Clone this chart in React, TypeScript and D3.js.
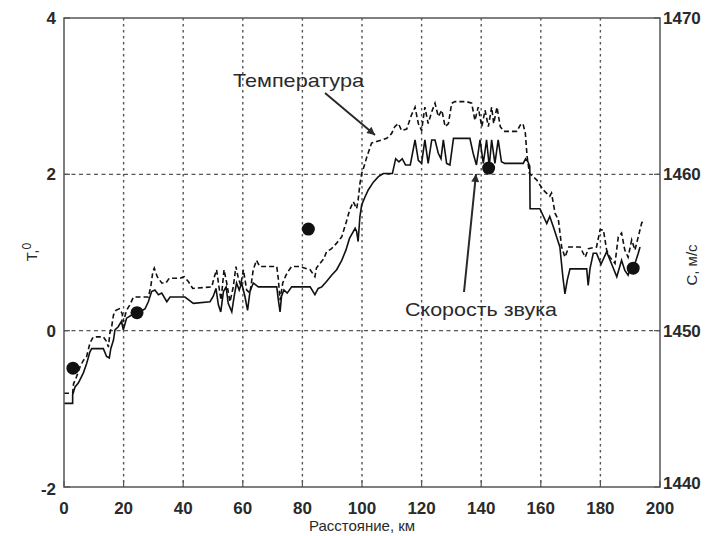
import React from 'react';
import * as d3 from 'd3';

// температура (пунктир), км / °C
const tempKm = [0, 2.9, 3.2, 4.2, 5.4, 6.5, 7.6, 8.7, 9.8, 13.2, 14.3, 14.9, 15.4, 16.0, 16.6, 17.4, 18.6, 19.5, 19.9, 21.0,
  22.1, 23.3, 28.3, 29.1, 29.8, 30.3, 31.3, 32.8, 34.2, 35.3, 38.9, 40.3, 41.7, 43.2, 49.6, 50.3, 51.2, 52.0, 52.7, 53.7,
  54.6, 55.7, 56.8, 57.7, 58.5, 59.3, 60.2, 61.3, 62.4, 63.5, 64.6, 65.7, 71.4, 71.9, 72.5, 73.4, 74.5, 75.6, 76.4, 79.1,
  82.6, 84.2, 84.7, 85.9, 87.2, 88.1, 89.8, 91.5, 93.2, 94.8, 95.9, 97.1, 98.2, 98.7, 99.3, 99.9, 101.0, 101.6, 103.2, 104.9,
  106.6, 108.3, 109.9, 111.0, 112.2, 113.3, 115.0, 116.5, 117.8, 118.9, 120.0, 121.1, 122.2, 123.4, 124.5, 125.6, 126.8, 127.9, 129.0, 130.1,
  131.2, 135.1, 136.8, 137.9, 139.0, 140.2, 141.3, 142.4, 143.5, 144.2, 145.3, 146.4, 147.6, 152.0, 153.1, 154.0, 154.8, 155.4, 156.2, 158.6,
  160.8, 161.9, 163.0, 163.6, 164.8, 165.9, 166.6, 167.0, 168.1, 169.4, 173.2, 174.9, 176.0, 178.7, 179.9, 181.0, 182.1, 183.2, 184.9, 186.0,
  187.1, 188.2, 189.3, 190.5, 191.6, 192.7, 193.8, 194.4];
const tempVal = [-0.80, -0.80, -0.68, -0.59, -0.46, -0.38, -0.33, -0.16, -0.08, -0.08, -0.14, -0.21, -0.03, 0.05, 0.20, 0.26, 0.28, 0.22, 0.11, 0.26,
  0.33, 0.43, 0.43, 0.56, 0.75, 0.80, 0.69, 0.61, 0.61, 0.67, 0.67, 0.69, 0.63, 0.54, 0.56, 0.67, 0.78, 0.56, 0.39, 0.78,
  0.61, 0.37, 0.56, 0.82, 0.67, 0.58, 0.78, 0.52, 0.48, 0.78, 0.90, 0.82, 0.82, 0.67, 0.39, 0.61, 0.71, 0.78, 0.82, 0.82,
  0.78, 0.69, 0.80, 0.86, 0.92, 1.01, 1.05, 1.12, 1.20, 1.40, 1.55, 1.65, 1.56, 1.67, 1.88, 2.01, 2.14, 2.22, 2.40, 2.42,
  2.44, 2.46, 2.52, 2.61, 2.65, 2.56, 2.58, 2.75, 2.86, 2.65, 2.56, 2.86, 2.65, 2.80, 2.91, 2.74, 2.82, 2.61, 2.65, 2.91,
  2.93, 2.93, 2.91, 2.69, 2.86, 2.61, 2.82, 2.61, 2.86, 2.65, 2.86, 2.61, 2.55, 2.55, 2.63, 2.65, 2.53, 2.23, 2.01, 1.93,
  1.80, 1.76, 1.72, 1.76, 1.50, 1.42, 1.20, 1.07, 0.94, 1.07, 1.07, 0.94, 1.05, 1.07, 1.29, 1.29, 1.03, 0.94, 0.86, 1.20,
  1.25, 1.03, 0.94, 1.16, 1.03, 1.20, 1.37, 1.42];

// скорость звука (сплошная), км / м/с
const speedKm = [0, 2.9, 2.9, 3.7, 4.8, 5.6, 6.5, 7.6, 8.7, 9.3, 13.2, 14.3, 15.2, 15.7, 16.6, 17.1, 18.2, 19.3, 19.9, 21.0,
  22.7, 25.5, 27.2, 28.3, 29.4, 30.5, 31.7, 32.8, 34.5, 35.6, 40.6, 43.4, 49.0, 50.1, 51.0, 51.8, 52.6, 53.5, 54.4, 55.1,
  56.3, 57.1, 57.9, 58.8, 59.6, 60.7, 61.6, 62.4, 63.5, 65.2, 71.4, 71.9, 72.5, 73.0, 73.8, 74.9, 76.4, 82.6, 84.2, 85.3,
  86.5, 88.1, 89.8, 91.5, 93.2, 94.6, 95.8, 97.7, 98.2, 98.7, 99.3, 99.9, 101.0, 102.1, 103.8, 105.5, 107.2, 110.2, 111.3, 112.4,
  113.5, 114.6, 116.2, 117.8, 118.9, 120.0, 121.1, 122.2, 123.4, 124.5, 125.6, 126.5, 127.3, 128.4, 129.5, 130.7, 136.2, 137.3, 138.4, 139.6,
  140.7, 141.8, 142.7, 143.5, 144.6, 145.7, 146.8, 147.9, 154.1, 154.9, 155.7, 156.3, 156.4, 159.7, 162.0, 163.0, 164.2, 166.4, 167.4, 168.1,
  168.9, 169.8, 175.4, 175.9, 176.5, 177.6, 178.7, 180.2, 182.1, 183.8, 185.5, 187.1, 188.2, 189.3, 190.5, 191.6, 192.7, 193.3];
const speedVal = [1445.35, 1445.35, 1445.9, 1446.4, 1446.65, 1446.95, 1447.3, 1447.9, 1448.65, 1448.85, 1448.85, 1448.35, 1448.25, 1448.85, 1449.4, 1450.05, 1450.25, 1450.6, 1450.05, 1450.8,
  1451.0, 1451.2, 1451.4, 1451.85, 1452.5, 1452.6, 1452.3, 1452.4, 1451.85, 1452.15, 1452.15, 1451.75, 1451.85, 1452.2, 1452.7, 1451.65, 1451.2, 1452.5, 1452.8, 1451.75,
  1451.2, 1452.2, 1453.05, 1452.6, 1453.05, 1452.2, 1451.3, 1452.5, 1453.05, 1452.8, 1452.8, 1452.0, 1451.2, 1452.2, 1452.6, 1452.4, 1452.8, 1452.8, 1452.3, 1452.7,
  1452.8, 1453.15, 1453.55, 1453.9, 1454.5, 1455.15, 1455.9, 1456.55, 1456.35, 1455.7, 1457.3, 1458.05, 1458.55, 1459.0, 1459.5, 1459.85, 1460.05, 1460.05, 1461.0, 1460.8,
  1461.0, 1460.6, 1460.6, 1462.2, 1460.9, 1460.7, 1462.2, 1460.7, 1462.2, 1462.2, 1461.35, 1461.0, 1462.2, 1460.7, 1460.6, 1462.3, 1462.3, 1461.35, 1460.6, 1462.2,
  1460.7, 1462.2, 1460.5, 1462.2, 1460.7, 1462.2, 1460.8, 1460.7, 1460.7, 1461.0, 1460.8, 1460.5, 1457.8, 1457.8, 1456.85, 1457.3, 1456.65, 1455.35, 1453.45, 1452.35,
  1453.25, 1453.95, 1453.95, 1452.9, 1453.95, 1454.95, 1454.95, 1454.25, 1455.05, 1454.25, 1453.45, 1454.5, 1453.85, 1453.55, 1454.3, 1454.3, 1454.95, 1455.35];

// точечные измерения температуры
const measKm = [3, 24.5, 82, 142.5, 191];
const measT = [-0.48, 0.23, 1.30, 2.08, 0.80];

const xTicks = [0, 20, 40, 60, 80, 100, 120, 140, 160, 180, 200];
const tTicks = [-2, 0, 2, 4];
const cTicks = [1440, 1450, 1460, 1470];

const W = 724, H = 536;
const L = 64, R = 660, T = 18, B = 487;
const tickFont = '"Liberation Sans Narrow", "Arial Narrow", "Liberation Sans", sans-serif';
const labelFont = '"Liberation Sans", Arial, sans-serif';
const ink = '#2a2a2a';
const gridCol = '#555';

export default function App() {
  const x = d3.scaleLinear().domain([0, 200]).range([L, R]);
  const yT = d3.scaleLinear().domain([-2, 4]).range([B, T]);
  const yC = d3.scaleLinear().domain([1440, 1470]).range([B, T]);

  const tempLine = d3.line<number>().x((d, i) => x(tempKm[i])).y(d => yT(d));
  const speedLine = d3.line<number>().x((d, i) => x(speedKm[i])).y(d => yC(d));

  return (
    <svg width={W} height={H} style={{ position: 'absolute', left: 0, top: 0, background: '#fff' }}>
      <defs>
        <marker id="ah" viewBox="0 0 10 10" refX="10" refY="5" markerWidth="12" markerHeight="8"
          markerUnits="userSpaceOnUse" orient="auto">
          <path d="M0,0 L10,5 L0,10 z" fill={ink} />
        </marker>
      </defs>

      {/* сетка */}
      {xTicks.slice(1, -1).map(v => (
        <line key={'gx' + v} x1={x(v)} x2={x(v)} y1={T} y2={B} stroke={gridCol} strokeWidth={1.4} strokeDasharray="2.5,3.5" />
      ))}
      {tTicks.slice(1, -1).map(v => (
        <line key={'gy' + v} x1={L} x2={R} y1={yT(v)} y2={yT(v)} stroke={gridCol} strokeWidth={1.4} strokeDasharray="4,3.5" />
      ))}

      {/* кривые */}
      <path d={tempLine(tempVal) ?? ''} fill="none" stroke="#111" strokeWidth={1.6} strokeDasharray="5,3" />
      <path d={speedLine(speedVal) ?? ''} fill="none" stroke="#111" strokeWidth={1.6} />
      {measKm.map((k, i) => (
        <circle key={'m' + i} cx={x(k)} cy={yT(measT[i])} r={6.5} fill="#111" />
      ))}

      {/* рамка и засечки */}
      <rect x={L} y={T} width={R - L} height={B - T} fill="none" stroke="#555" strokeWidth={1.5} />
      {xTicks.map(v => (
        <g key={'tx' + v}>
          <line x1={x(v)} x2={x(v)} y1={B} y2={B - 6} stroke="#555" strokeWidth={1.2} />
          <text x={x(v)} y={514} textAnchor="middle" fontFamily={tickFont} fontWeight="bold" fontSize={17} fill={ink}>{v}</text>
        </g>
      ))}
      {tTicks.map(v => (
        <g key={'ty' + v}>
          <line x1={L} x2={L + 6} y1={yT(v)} y2={yT(v)} stroke="#555" strokeWidth={1.2} />
          <text x={56} y={yT(v) + (v === -2 ? 2 : 0)} dy="0.35em" textAnchor="end" fontFamily={tickFont} fontWeight="bold" fontSize={17} fill={ink}>{v}</text>
        </g>
      ))}
      {cTicks.map(v => (
        <g key={'tc' + v}>
          <line x1={R} x2={R - 6} y1={yC(v)} y2={yC(v)} stroke="#555" strokeWidth={1.2} />
          <text x={663} y={yC(v) - (v === 1440 ? 4 : 0)} dy="0.35em" textAnchor="start" fontFamily={tickFont} fontWeight="bold" fontSize={17} fill={ink}>{v}</text>
        </g>
      ))}

      {/* подписи осей */}
      <text x={(L + R) / 2} y={531} textAnchor="middle" fontFamily={labelFont} fontSize={15} fill={ink}>Расстояние, км</text>
      <text transform="translate(37,252) rotate(-90)" textAnchor="middle" fontFamily={labelFont} fontSize={15} fill={ink}>
        T,<tspan dy="-6" fontSize={12}>0</tspan>
      </text>
      <text transform="translate(697,265) rotate(-90)" textAnchor="middle" fontFamily={labelFont} fontSize={15} fill={ink}>С, м/с</text>

      {/* аннотации */}
      <text x={233} y={87} fontFamily={labelFont} fontSize={19} fill={ink} textLength={131} lengthAdjust="spacingAndGlyphs">Температура</text>
      <line x1={325} y1={93} x2={375} y2={135} stroke={ink} strokeWidth={2} markerEnd="url(#ah)" />
      <text x={405} y={316} fontFamily={labelFont} fontSize={19} fill={ink} textLength={152} lengthAdjust="spacingAndGlyphs">Скорость звука</text>
      <line x1={464} y1={292} x2={476} y2={174} stroke={ink} strokeWidth={2} markerEnd="url(#ah)" />
    </svg>
  );
}
